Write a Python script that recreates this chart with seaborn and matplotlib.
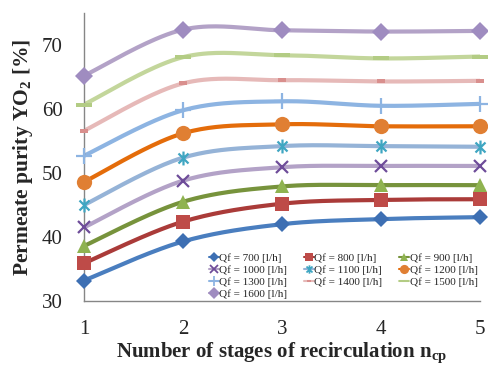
import numpy as np
import pandas as pd
import matplotlib
matplotlib.use("Agg")
import matplotlib.pyplot as plt
from matplotlib.path import Path
from matplotlib.lines import Line2D
import seaborn as sns

# ---- data ----
stages = [1, 2, 3, 4, 5]
flows = [700, 800, 900, 1000, 1100, 1200, 1300, 1400, 1500, 1600]
qf700 = [33.2, 39.3, 42.0, 42.8, 43.1]
qf800 = [35.9, 42.4, 45.2, 45.8, 45.9]
qf900 = [38.6, 45.5, 47.9, 48.1, 48.1]
qf1000 = [41.5, 48.8, 50.9, 51.1, 51.1]
qf1100 = [45.0, 52.4, 54.2, 54.2, 54.1]
qf1200 = [48.6, 56.2, 57.6, 57.3, 57.3]
qf1300 = [52.7, 59.8, 61.2, 60.5, 60.8]
qf1400 = [56.6, 64.0, 64.5, 64.3, 64.4]
qf1500 = [60.7, 68.1, 68.4, 67.9, 68.2]
qf1600 = [65.2, 72.4, 72.3, 72.1, 72.2]
series = [qf700, qf800, qf900, qf1000, qf1100, qf1200, qf1300, qf1400, qf1500, qf1600]
labels = [f"Qf = {f} [l/h]" for f in flows]

line_colors = ['#4a7ebf', '#aa3b39', '#77933c', '#b3a2c7', '#95b3d7',
               '#e46c0a', '#8db4e2', '#e6b9b8', '#c3d69b', '#b3a2c7']
marker_colors = ['#3d6fb3', '#be4b48', '#8fb350', '#6e4c99', '#3fa6c2',
                 '#e07f33', '#8db4e2', '#d98f8d', '#b3cc84', '#9f8cc0']

star = Path([(0, -1), (0, 1), (-0.72, -0.72), (0.72, 0.72), (-0.72, 0.72), (0.72, -0.72)],
            [Path.MOVETO, Path.LINETO, Path.MOVETO, Path.LINETO, Path.MOVETO, Path.LINETO])
short_dash = [(-1, -0.45), (1, -0.45), (1, 0.45), (-1, 0.45)]
long_dash = [(-1, -0.3), (1, -0.3), (1, 0.3), (-1, 0.3)]
markers = ['D', 's', '^', 'x', star, 'o', '+', short_dash, long_dash, 'D']
msizes = [8.5, 10.5, 10.5, 9, 10, 11, 11, 5.5, 11, 9.5]
mews = [0, 0, 0, 1.6, 1.6, 0, 1.6, 0, 0, 0]


def smooth(xv, yv, n=40):
    # Excel-style smoothed line (Catmull-Rom via cubic Bezier)
    p = np.column_stack([xv, yv]).astype(float)
    pts = []
    m = len(p)
    for i in range(m - 1):
        p0 = p[i - 1] if i > 0 else p[i]
        p1, p2 = p[i], p[i + 1]
        p3 = p[i + 2] if i + 2 < m else p[i + 1]
        c1 = p1 + (p2 - p0) / 6.0
        c2 = p2 - (p3 - p1) / 6.0
        t = np.linspace(0, 1, n)[:, None]
        seg = ((1 - t) ** 3) * p1 + 3 * ((1 - t) ** 2) * t * c1 + 3 * (1 - t) * t ** 2 * c2 + t ** 3 * p2
        pts.append(seg if i == 0 else seg[1:])
    pts = np.vstack(pts)
    return pts[:, 0], pts[:, 1]


sns.set_style("white")
plt.rcParams['font.family'] = ['Liberation Serif', 'DejaVu Serif']
plt.rcParams['mathtext.fontset'] = 'custom'
plt.rcParams['mathtext.rm'] = 'Liberation Serif:bold'
plt.rcParams['mathtext.bf'] = 'Liberation Serif:bold'

fig = plt.figure(figsize=(4.88, 3.70), dpi=100)
ax = fig.add_axes([84 / 488, 1 - 301 / 370, 396 / 488, 288 / 370])

handles = []
for vals, lab, lc, mc, mk, ms, mw in zip(series, labels, line_colors, marker_colors, markers, msizes, mews):
    sx, sy = smooth(stages, vals)
    df = pd.DataFrame({"x": sx, "y": sy})
    sns.lineplot(data=df, x="x", y="y", ax=ax, color=lc, lw=3.0, sort=False,
                 estimator=None, legend=False, zorder=2)
    ax.plot(stages, vals, ls='none', marker=mk, ms=ms, mfc=mc, mec=mc, mew=mw,
            zorder=3, clip_on=False)
    handles.append(Line2D([], [], color=lc, lw=1.5, marker=mk, ms=ms * 0.6,
                          mfc=mc, mec=mc, mew=mw * 0.8, label=lab))

ax.set_xlim(1, 5)
ax.set_ylim(30, 75)
ax.set_xticks(stages)
ax.set_yticks([30, 40, 50, 60, 70])
for s in ['top', 'right']:
    ax.spines[s].set_visible(False)
for s in ['left', 'bottom']:
    ax.spines[s].set_color('#868686')
    ax.spines[s].set_linewidth(1.0)
ax.tick_params(axis='y', direction='inout', length=9, color='#868686', labelsize=15, pad=11)
ax.tick_params(axis='x', direction='out', length=6, color='#868686', labelsize=15, pad=8)

ax.set_ylabel("Permeate purity YO$_2$ [%]", fontsize=15.5, fontweight='bold', labelpad=5)
ax.set_xlabel("Number of stages of recirculation n$_{\\mathrm{cp}}$", fontsize=15,
              fontweight='bold', labelpad=1)

order = [0, 3, 6, 9, 1, 4, 7, 2, 5, 8]
ax.legend([handles[i] for i in order], [labels[i] for i in order], ncol=3,
          loc='lower right', bbox_to_anchor=(1.0, 0.0), frameon=False,
          fontsize=8.0, handlelength=0.9, handletextpad=0.05, columnspacing=1.5,
          labelspacing=0.2, borderaxespad=0.1, borderpad=0.1)

fig.savefig("out.png", dpi=100)
